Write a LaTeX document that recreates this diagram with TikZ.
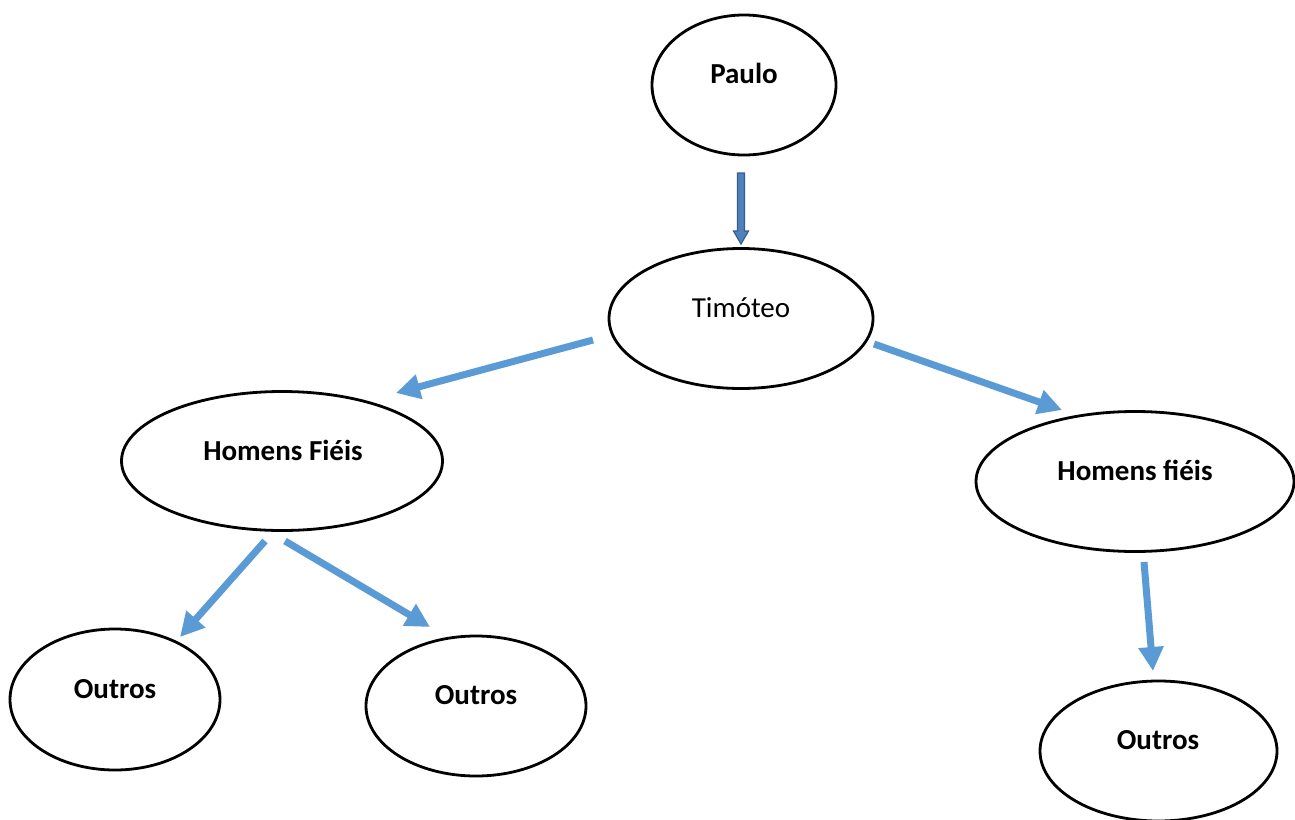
\documentclass[tikz,border=0pt]{standalone}
\usepackage{fontspec}
\setmainfont{Carlito}
\usetikzlibrary{arrows.meta,shapes.geometric,calc}
\definecolor{arrblue}{HTML}{5B9BD5}
\definecolor{pfill}{HTML}{4F81BD}
\definecolor{pline}{HTML}{385D8A}
\tikzset{
  ell/.style={ellipse, draw=black, line width=2.8pt, fill=white, inner sep=0pt},
  lbl/.style={anchor=base, inner sep=0pt, font=\fontsize{29}{34}\selectfont\bfseries},
  lblr/.style={anchor=base, inner sep=0pt, font=\fontsize{29}{34}\selectfont},
  conn/.style={draw=arrblue, line width=7pt, -{Triangle[length=24pt,width=24pt]}},
}
\begin{document}
\begin{tikzpicture}[x=1pt,y=-1pt]
\useasboundingbox[fill=white] (0,0) rectangle (1295,819);
% nodes
\node[ell, minimum width=184pt, minimum height=140pt] (paulo) at (744,85) {};
\node[lbl] (tpaulo) at (744,83) {Paulo};
\node[ell, minimum width=264pt, minimum height=140pt] (timoteo) at (741,318.5) {};
\node[lblr] (ttimoteo) at (741,317) {Timóteo};
\node[ell, minimum width=321pt, minimum height=139pt] (hfl) at (282,461) {};
\node[lbl] (thfl) at (283,460) {Homens Fiéis};
\node[ell, minimum width=318pt, minimum height=140pt] (hfr) at (1135,481.5) {};
\node[lbl] (thfr) at (1135,480) {Homens fiéis};
\node[ell, minimum width=210pt, minimum height=141pt] (o1) at (115,699.5) {};
\node[lbl] (to1) at (115,698) {Outros};
\node[ell, minimum width=220pt, minimum height=140pt] (o2) at (476,706) {};
\node[lbl] (to2) at (476,704) {Outros};
\node[ell, minimum width=237pt, minimum height=140pt] (o3) at (1158.5,751) {};
\node[lbl] (to3) at (1158,749) {Outros};
% connector end points
\coordinate (pa1) at (741,173);
\coordinate (pa2) at (741,244);
\coordinate (a1s) at (593,340);
\coordinate (a1e) at (396,393);
\coordinate (a2s) at (874,344);
\coordinate (a2e) at (1062,410);
\coordinate (a3s) at (265,541);
\coordinate (a3e) at (180,637);
\coordinate (a4s) at (285,541);
\coordinate (a4e) at (430,627);
\coordinate (a5s) at (1144,562);
\coordinate (a5e) at (1153,671);
% Paulo -> Timoteo block arrow
\draw[fill=pfill, draw=pline, line width=1.2pt, line join=miter]
  ($(pa1)+(-3.5,0)$) -- ($(pa1)+(3.5,0)$) -- ($(pa2)+(3.5,-13)$) -- ($(pa2)+(7.5,-13)$)
  -- (pa2) -- ($(pa2)+(-7.5,-13)$) -- ($(pa2)+(-3.5,-13)$) -- cycle;
% blue arrows
\draw[conn] (a1s) -- (a1e);
\draw[conn] (a2s) -- (a2e);
\draw[conn] (a3s) -- (a3e);
\draw[conn] (a4s) -- (a4e);
\draw[conn] (a5s) -- (a5e);
\end{tikzpicture}
\end{document}
